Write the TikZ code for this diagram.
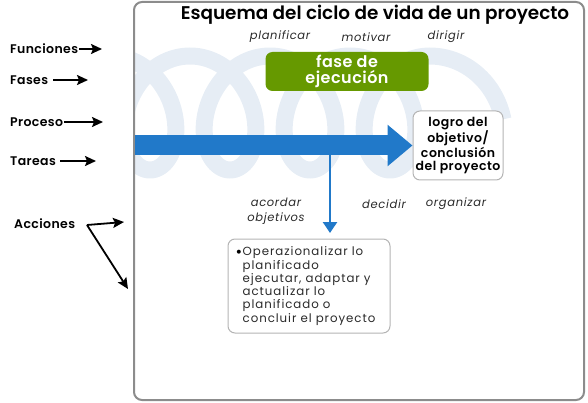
\documentclass[tikz,border=0pt]{standalone}
\usepackage{fontspec}
\setmainfont{Poppins}[BoldFont={Poppins SemiBold}]
\usetikzlibrary{arrows.meta}
\definecolor{coilc}{HTML}{E6EDF5}
\definecolor{bigblue}{HTML}{2179C9}
\definecolor{phasegreen}{HTML}{669900}
\definecolor{framegray}{HTML}{8C8C8C}
\definecolor{boxgray}{HTML}{B4B4B4}
\definecolor{txtgray}{HTML}{2A2A2A}
\tikzset{
  sidelabel/.style={anchor=west, inner sep=1pt, font=\bfseries\fontsize{12.5}{14}\selectfont\addfontfeature{LetterSpace=3}},
  sidearrow/.style={line width=1.8pt, -{Stealth[length=11pt,width=10pt,inset=2pt]}},
  verb/.style={font=\itshape\fontsize{11.5}{15}\selectfont\addfontfeature{LetterSpace=6}, text=txtgray, align=center, inner sep=0pt},
  roundbox/.style={draw=boxgray, line width=1pt, fill=white, rounded corners=7pt},
  coil/.style={draw=coilc, line width=17pt},
}
\begin{document}
\begin{tikzpicture}[x=1pt,y=-1pt]
\useasboundingbox (0,0) rectangle (588,403);
% background coil, clipped to the frame
\begin{scope}
  \clip (135,3) rectangle (583,399);
  \draw[coil] plot[domain=-1.6:25.1327, samples=500, variable=\t, smooth]
    ({110 + 80*\t/(2*pi) + 44*sin(\t r)}, {113 - 57*cos(\t r)})
    arc[start angle=-90, end angle=-12, x radius=75, y radius=80];
\end{scope}
% frame
\draw[framegray, line width=2pt, rounded corners=8pt] (134,2) rectangle (584,400);
% title
\node[font=\bfseries\fontsize{18.4}{20}\selectfont, inner sep=0pt] (title) at (375,15) {Esquema del ciclo de vida de un proyecto};
% functions
\node[verb] (plan) at (280,37) {planificar};
\node[verb] (moti) at (366,37) {motivar};
\node[verb] (diri) at (446,37) {dirigir};
% phase
\node[fill=phasegreen, rounded corners=7pt, minimum width=163pt, minimum height=39pt, text=white, align=center,
      font=\bfseries\fontsize{16}{16}\selectfont\addfontfeature{LetterSpace=3}, inner sep=0pt] (fase) at (347,71.5) {fase de\\ejecución};
% goal box
\node[roundbox, minimum width=90pt, minimum height=69pt, align=center, inner sep=0pt,
      font=\bfseries\fontsize{12.5}{12.7}\selectfont\addfontfeature{LetterSpace=4}] (logro) at (458,145.5) {logro del\\objetivo/\\conclusión\\del proyecto};
% process arrow
\coordinate (pstart) at (135,145.5);
\draw[bigblue, line width=20pt, -{Triangle[length=25pt,width=40pt]}] (pstart) -- (logro.west);
% task arrow
\coordinate (vstart) at (330,150);
\node[roundbox, minimum width=162pt, minimum height=94pt, align=left, inner sep=0pt, text=txtgray,
      font=\fontsize{11.8}{13.3}\selectfont\addfontfeature{LetterSpace=8}] (bul) at (309,286)
  {\llap{\color{black}\raisebox{-1.5pt}{\fontsize{16}{12}\selectfont\textbullet}\hspace{0.5pt}}Operazionalizar lo\\planificado\\ejecutar, adaptar y\\actualizar lo\\planificado o\\concluir el proyecto};
\coordinate (vend) at (330,233);
\draw[bigblue, line width=2.5pt, -{Triangle[length=11pt,width=14pt]}] (vstart) -- (vend);
% actions
\node[verb] (acor) at (276,211) {acordar\\objetivos};
\node[verb] (deci) at (384,204) {decidir};
\node[verb] (orga) at (456,204) {organizar};
% side labels
\node[sidelabel] (fun) at (9,49) {Funciones};
\node[sidelabel] (fas) at (9,80) {Fases};
\node[sidelabel] (pro) at (9,122) {Proceso};
\node[sidelabel] (tar) at (9,161) {Tareas};
\node[sidelabel] (acc) at (13,224) {Acciones};
\coordinate (funE) at (102,49);
\coordinate (fasE) at (88,80);
\coordinate (proE) at (103,122);
\coordinate (tarE) at (96,161);
\coordinate (accS) at (87,225);
\coordinate (accE1) at (124,222);
\coordinate (accE2) at (128,289);
\draw[sidearrow] (fun.east) -- (funE);
\draw[sidearrow] ([xshift=4pt]fas.east) -- (fasE);
\draw[sidearrow] (pro.east) -- (proE);
\draw[sidearrow] ([xshift=3pt]tar.east) -- (tarE);
\draw[sidearrow] (accS) -- (accE1);
\draw[sidearrow] (accS) -- (accE2);
\end{tikzpicture}
\end{document}
